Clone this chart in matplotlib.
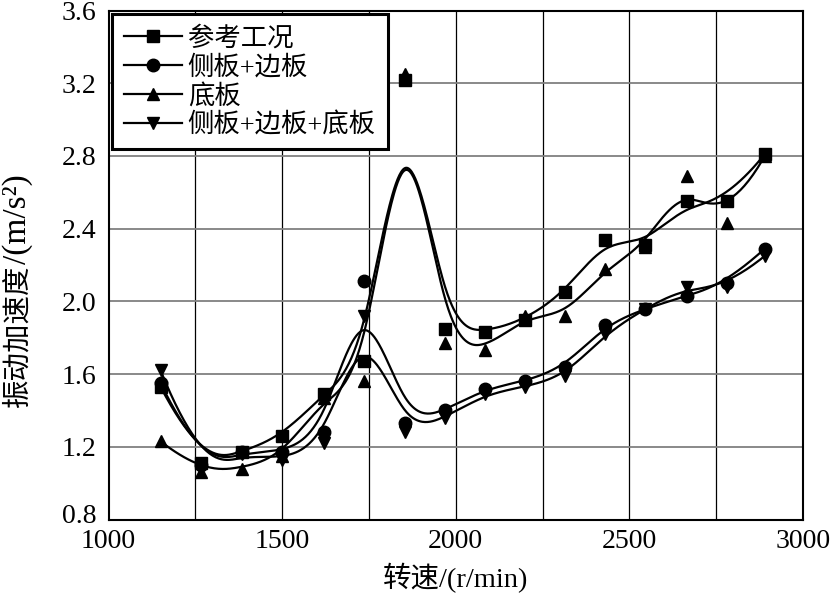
import numpy as np
import matplotlib
matplotlib.use('Agg')
import matplotlib.pyplot as plt
from matplotlib.transforms import ScaledTranslation

# 数据
speed = [1150, 1265, 1385, 1500, 1620, 1735, 1855, 1970,
         2085, 2200, 2315, 2430, 2545, 2665, 2780, 2890]
ref_case = [1.53, 1.11, 1.17, 1.26, 1.49, 1.67, 3.22, 1.85,
            1.83, 1.90, 2.05, 2.34, 2.31, 2.55, 2.55, 2.81]
side_edge = [1.55, 1.10, 1.17, 1.17, 1.28, 2.11, 1.33, 1.40,
             1.52, 1.56, 1.64, 1.87, 1.96, 2.03, 2.10, 2.29]
bottom = [1.23, 1.06, 1.08, 1.15, 1.47, 1.56, 3.25, 1.77,
          1.73, 1.92, 1.92, 2.18, 2.30, 2.69, 2.43, 2.80]
side_edge_bottom = [1.62, 1.08, 1.16, 1.13, 1.22, 1.92, 1.28, 1.36,
                    1.49, 1.53, 1.59, 1.82, 1.96, 2.08, 2.08, 2.25]

labels = ['参考工况', '侧板+边板', '底板', '侧板+边板+底板']
markers = ['s', 'o', '^', 'v']
x_ticks = [1000, 1500, 2000, 2500, 3000]
y_ticks = [0.8, 1.2, 1.6, 2.0, 2.4, 2.8, 3.2, 3.6]


def bspline(px, py, n=600, k=3):
    """clamped 均匀 B 样条（数据点作为控制点）"""
    P = np.column_stack([px, py]).astype(float)
    m = len(P)
    inner = np.arange(1, m - k)
    t = np.concatenate([np.zeros(k + 1), inner, np.full(k + 1, m - k)]).astype(float)
    u = np.linspace(0, m - k, n)
    u[-1] -= 1e-9
    # Cox-de Boor
    N = np.zeros((n, len(t) - 1))
    for i in range(len(t) - 1):
        N[:, i] = (u >= t[i]) & (u < t[i + 1])
    for d in range(1, k + 1):
        Nn = np.zeros((n, len(t) - 1 - d))
        for i in range(len(t) - 1 - d):
            a = 0.0
            if t[i + d] != t[i]:
                a = (u - t[i]) / (t[i + d] - t[i]) * N[:, i]
            b = 0.0
            if t[i + d + 1] != t[i + 1]:
                b = (t[i + d + 1] - u) / (t[i + d + 1] - t[i + 1]) * N[:, i + 1]
            Nn[:, i] = a + b
        N = Nn
    C = N @ P
    return C[:, 0], C[:, 1]


serif = ['Liberation Serif', 'Noto Sans CJK SC']
plt.rcParams['font.family'] = serif

W, H = 839, 599
fig = plt.figure(figsize=(W / 100, H / 100), dpi=100)
ax = fig.add_axes([108.5 / W, 1 - 519.5 / H, 694.5 / W, 509 / H])

series = [ref_case, side_edge, bottom, side_edge_bottom]
for vals, lab, mk in zip(series, labels, markers):
    sx, sy = bspline(speed, vals)
    ax.plot(sx, sy, color='black', lw=1.6, zorder=3)
    ax.plot(speed, vals, linestyle='none', marker=mk, color='black',
            markersize=9, zorder=4)
    # 图例句柄
    ax.plot([], [], color='black', lw=1.6, marker=mk, markersize=9, label=lab)

ax.set_xlim(1000, 3000)
ax.set_ylim(0.8, 3.6)
ax.set_xticks(x_ticks)
ax.set_yticks(y_ticks)
ax.set_yticklabels([f'{v:.1f}' for v in y_ticks])
for xv in np.arange(1250, 3000, 250):
    ax.axvline(xv, color='black', lw=0.9, zorder=1)
for yv in y_ticks[1:-1]:
    ax.axhline(yv, color='#808080', lw=1.3, zorder=1)

ax.tick_params(length=0, labelsize=20)
ax.tick_params(axis='y', pad=9)
ax.tick_params(axis='x', pad=7)
for s in ax.spines.values():
    s.set_linewidth(1.5)

# 0.8 稍微上移，避免与 1000 重叠
lab0 = ax.get_yticklabels()[0]
lab0.set_transform(lab0.get_transform() + ScaledTranslation(0, 4 / 72, fig.dpi_scale_trans))

ax.set_xlabel('转速/(r/min)', fontsize=20.5, family=serif, labelpad=6)

# y 轴标题：中文 + 单位分两段
t1 = fig.text(18 / W, 1 - 407 / H, '振动加速度', rotation=90, ha='center', va='bottom',
              fontsize=20.5, family=serif)
ax.annotate('/(m/s²)', xy=(0.5, 1), xycoords=t1, rotation=90, ha='center', va='bottom',
            fontsize=24, family='Liberation Serif', annotation_clip=False)

leg = ax.legend(loc='upper left', bbox_to_anchor=(0.005, 0.993), borderaxespad=0,
                fontsize=19, frameon=True, fancybox=False, handlelength=2.2,
                handletextpad=0.22, labelspacing=0.15, borderpad=0.45)
leg.get_frame().set_edgecolor('black')
leg.get_frame().set_linewidth(2.2)
leg.get_frame().set_alpha(1)

fig.savefig('out.png', dpi=100)
